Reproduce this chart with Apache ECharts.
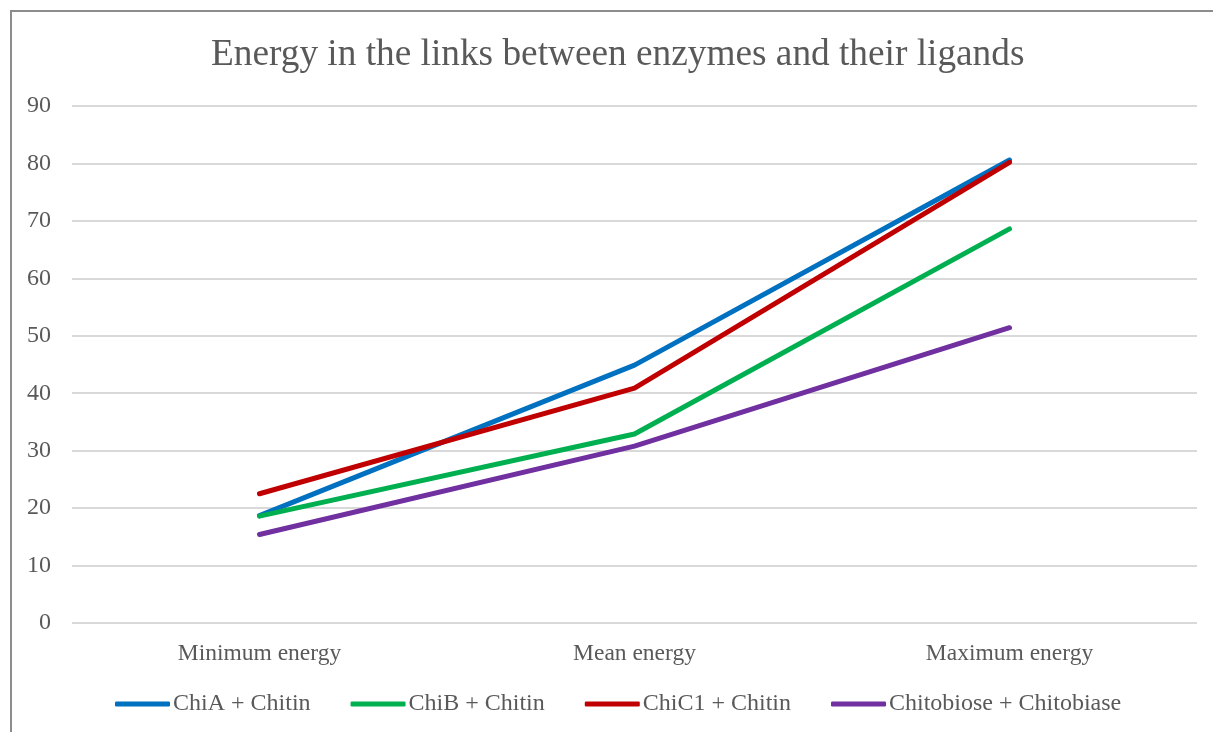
<!DOCTYPE html>
<html>
<head>
<meta charset="utf-8">
<script src="https://cdn.jsdelivr.net/npm/echarts@6/dist/echarts.min.js"></script>
<style>
  html, body { margin: 0; padding: 0; background: #fff; }
  #frame {
    position: absolute; left: 10px; top: 10px; width: 1220px; height: 740px;
    border-top: 2px solid #8c8c8c; border-left: 2px solid #8c8c8c; box-sizing: border-box;
  }
  #chart { position: absolute; left: 0; top: 0; width: 1213px; height: 732px; }
</style>
</head>
<body>
<div id="frame"></div>
<div id="chart"></div>
<script>
const categories = ['Minimum energy', 'Mean energy', 'Maximum energy'];
const chiA = [18.7, 44.9, 80.6];
const chiB = [18.6, 32.9, 68.6];
const chiC1 = [22.5, 40.9, 80.2];
const chitobiose = [15.4, 30.8, 51.4];
const seriesNames = ['ChiA + Chitin', 'ChiB + Chitin', 'ChiC1 + Chitin', 'Chitobiose + Chitobiase'];
const seriesColors = ['#0070c0', '#00b050', '#c00000', '#7030a0'];

const font = '"Liberation Serif", "Times New Roman", serif';
const textColor = '#595959';

const chart = echarts.init(document.getElementById('chart'), null, { renderer: 'canvas' });

const makeLine = (name, data, color) => ({
  name, type: 'line', data,
  symbol: 'none', smooth: false,
  lineStyle: { width: 5, color, cap: 'round', join: 'round' },
  itemStyle: { color },
  emphasis: { disabled: true }
});

chart.setOption({
  animation: false,
  backgroundColor: 'transparent',
  title: {
    text: 'Energy in the links between enzymes and their ligands',
    left: 206, top: 32,
    textStyle: { fontFamily: font, fontSize: 37.3, fontWeight: 'normal', color: textColor }
  },
  grid: { left: 72, right: 16, top: 106, bottom: 109, containLabel: false },
  xAxis: {
    type: 'category', data: categories, boundaryGap: true,
    axisLine: { show: false }, axisTick: { show: false },
    axisLabel: { fontFamily: font, fontSize: 23.5, color: textColor, margin: 19 }
  },
  yAxis: {
    type: 'value', min: 0, max: 90, interval: 10,
    axisLine: { show: false }, axisTick: { show: false },
    splitLine: { lineStyle: { color: '#d9d9d9', width: 2 } },
    axisLabel: { fontFamily: font, fontSize: 24, color: textColor, margin: 21 }
  },
  legend: {
    bottom: 11, left: 110,
    icon: 'roundRect', itemWidth: 55, itemHeight: 5, itemGap: 40,
    textStyle: { fontFamily: font, fontSize: 24, color: textColor, padding: [0, 0, 0, -2] },
    data: seriesNames
  },
  series: [
    makeLine(seriesNames[0], chiA, seriesColors[0]),
    makeLine(seriesNames[1], chiB, seriesColors[1]),
    makeLine(seriesNames[2], chiC1, seriesColors[2]),
    makeLine(seriesNames[3], chitobiose, seriesColors[3])
  ]
});
</script>
</body>
</html>
